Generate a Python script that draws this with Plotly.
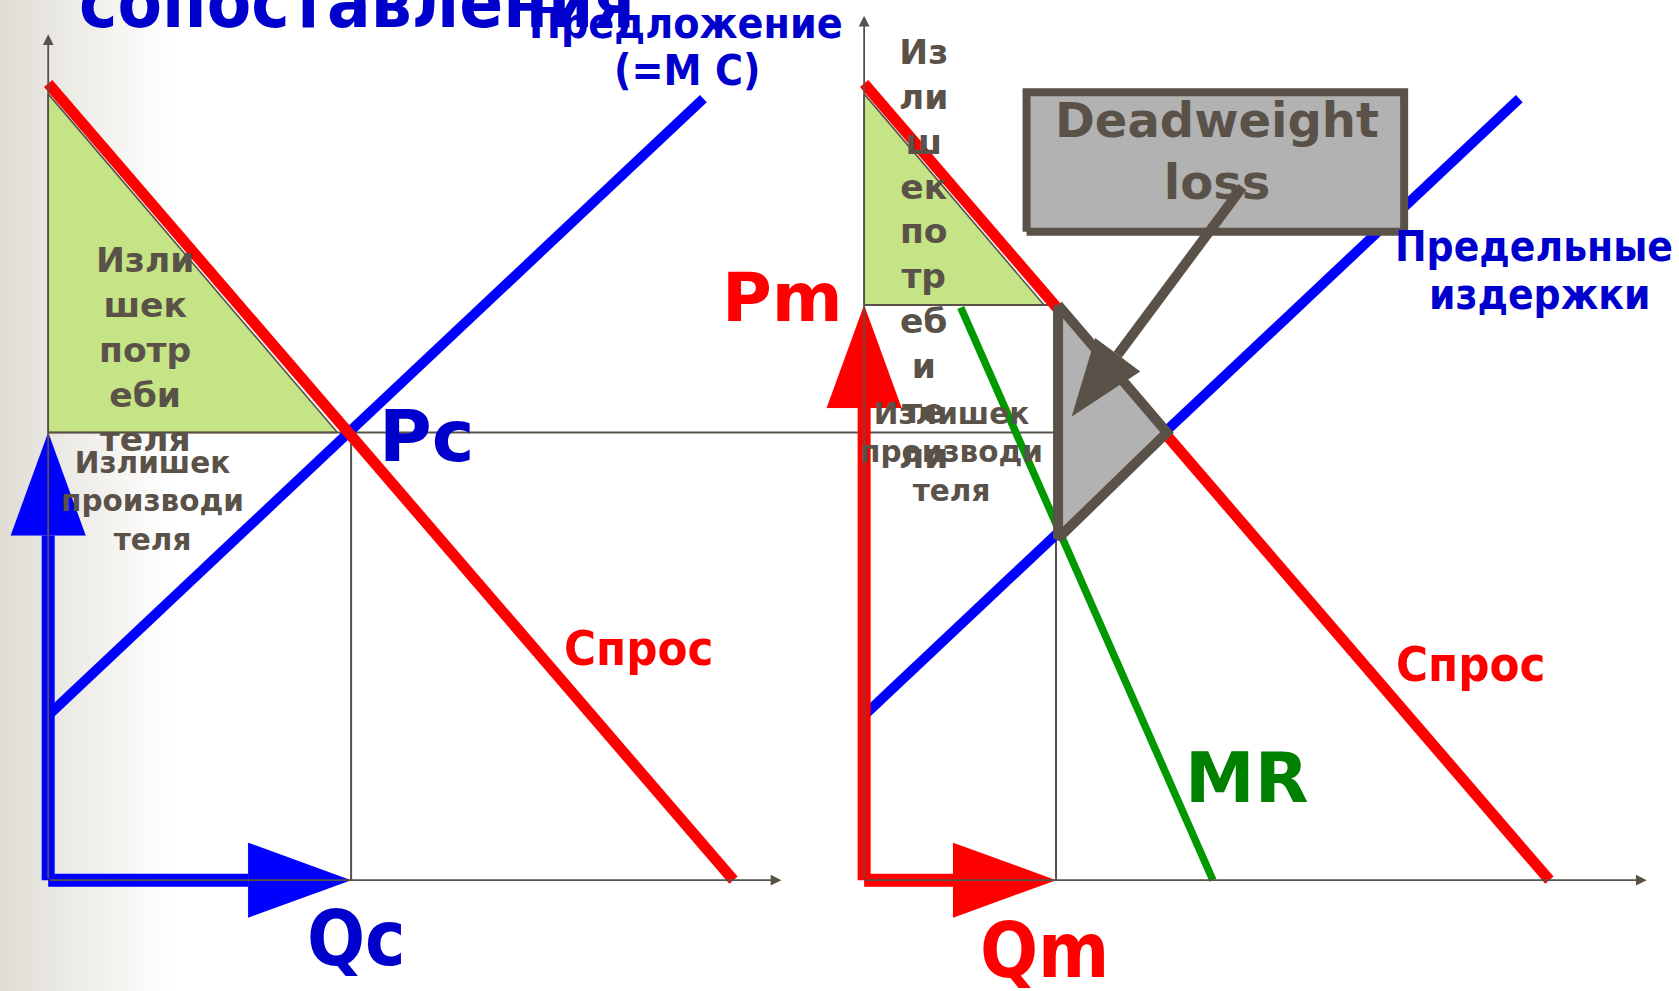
import plotly.graph_objects as go
import math

# ---------------- data (economic units) ----------------
demand_q = [0.0, 10.0]
demand_p = [10.0, 0.0]
supply_q = [0.0, 9.56]
supply_p = [2.07, 9.81]
mr_q = [1.41, 5.09]
mr_p = [7.19, 0.0]
Qc, Pc = 4.42, 5.62
Qm, Pm = 2.80, 7.22
cs_comp_q = [0.0, 0.0, 4.22]
cs_comp_p = [9.87, 5.62, 5.62]
cs_mono_q = [0.0, 0.0, 2.625]
cs_mono_p = [9.87, 7.22, 7.22]
dwl_q = [2.83, 4.42, 2.83]
dwl_p = [7.22, 5.62, 4.29]
axis_left_end = [10.7, 10.62]    # x end, y end
axis_right_end = [11.42, 10.85]

# ---------------- geometry / style ----------------
W, H = 1679, 991
K = 1679 / 1568
SX = 64 * K        # px per Q unit
SY = 74.4 * K      # px per P unit
OX1 = 45 * K       # left panel origin (px)
OX2 = 807 * K      # right panel origin (px)
OY = 822 * K

# both coordinate systems span the whole figure, each with its own origin
x1_range = [-OX1 / SX, (W - OX1) / SX]
x2_range = [-OX2 / SX, (W - OX2) / SX]
y_range = [-(H - OY) / SY, OY / SY]
right_origin_in_left = (OX2 - OX1) / SX

RED = "#FF0000"
BLUE = "#0000FF"
TBLUE = "#0000CC"
GREEN_LINE = "#009900"
GREEN_TXT = "#008000"
DARK = "#5A5249"
CSFILL = "#C4E485"
DWLFILL = "#B2B2B2"
FONT = "DejaVu Sans"
CFONT = "DejaVu Sans Condensed, Liberation Sans Narrow, DejaVu Sans"

fig = go.Figure()


def line(xs, ys, color, width, ax=1, **kw):
    fig.add_trace(go.Scatter(x=xs, y=ys, mode="lines",
                             line=dict(color=color, width=width),
                             xaxis="x" if ax == 1 else "x2",
                             yaxis="y" if ax == 1 else "y2",
                             hoverinfo="skip", showlegend=False, **kw))


def poly(xs, ys, fill, color, width, ax=1):
    line(list(xs) + [xs[0]], list(ys) + [ys[0]], color, width, ax,
         fill="toself", fillcolor=fill)


def arrowhead(tip, tail, length_px, half_px):
    dx = (tip[0] - tail[0]) * SX
    dy = (tip[1] - tail[1]) * SY
    n = math.hypot(dx, dy)
    ux, uy = dx / n, dy / n
    bx = tip[0] * SX - ux * length_px
    by = tip[1] * SY - uy * length_px
    px, py = -uy, ux
    pts = [(tip[0] * SX, tip[1] * SY),
           (bx + px * half_px, by + py * half_px),
           (bx - px * half_px, by - py * half_px)]
    base = (bx / SX, by / SY)
    return [p[0] / SX for p in pts], [p[1] / SY for p in pts], base


def big_arrow(tail, tip, color, width, length_px, half_px, ax):
    hx, hy, base = arrowhead(tip, tail, length_px, half_px)
    line([tail[0], base[0]], [tail[1], base[1]], color, width, ax)
    poly(hx, hy, color, color, 0.1, ax)


# consumer surplus triangles
poly(cs_comp_q, cs_comp_p, CSFILL, DARK, 1.6, 1)
poly(cs_mono_q, cs_mono_p, CSFILL, DARK, 1.6, 2)

# guide lines
line([0, right_origin_in_left], [Pc, Pc], DARK, 2, 1)
line([0, Qc], [Pc, Pc], DARK, 2, 2)
line([Qc, Qc], [0, Pc], DARK, 2, 1)
line([0, Qm], [Pm, Pm], DARK, 2, 2)
line([Qm, Qm], [0, Pm], DARK, 2, 2)

# supply / MC and demand
line(supply_q, supply_p, BLUE, 10, 1)
line(supply_q, supply_p, BLUE, 10, 2)
line(demand_q, demand_p, RED, 11, 1)
line(demand_q, demand_p, RED, 11, 2)
line(mr_q, mr_p, GREEN_LINE, 7.5, 2)

# deadweight loss triangle
poly(dwl_q, dwl_p, DWLFILL, DARK, 10, 2)

# deadweight box (label container)
bq = [2.37, 7.88]
bp = [8.14, 9.89]
poly([bq[0], bq[1], bq[1], bq[0]], [bp[0], bp[0], bp[1], bp[1]], DWLFILL, DARK, 8, 2)

# arrow from box to triangle
big_arrow((5.52, 8.70), (3.03, 5.82), DARK, 10, 77, 28, 2)

# big quantity/price arrows
big_arrow((0, 0), (0, Pc), BLUE, 13, 103, 37.5, 1)
big_arrow((0, 0), (Qc, 0), BLUE, 13, 103, 37.5, 1)
big_arrow((0, 0), (0, Pm), RED, 13, 103, 37.5, 2)
big_arrow((0, 0), (Qm, 0), RED, 13, 103, 37.5, 2)

# thin axes with small arrowheads
annotations = []
for (xr, yr, end) in [("x", "y", axis_left_end), ("x2", "y2", axis_right_end)]:
    for tip in [(end[0], 0), (0, end[1])]:
        annotations.append(dict(x=tip[0], y=tip[1], ax=0, ay=0, xref=xr, yref=yr,
                                axref=xr, ayref=yr, text="", showarrow=True,
                                arrowhead=2, arrowsize=1.2, arrowwidth=1.8,
                                arrowcolor=DARK, standoff=0, startstandoff=0))


def label(text, xs, ys, size, color, family=FONT, weight="bold"):
    annotations.append(dict(text=text, x=xs * K / W, y=1 - ys * K / H,
                            xref="paper", yref="paper", showarrow=False,
                            xanchor="center", yanchor="middle", align="center",
                            font=dict(family=family, size=size, color=color,
                                      weight=weight)))


label("сопоставления", 333, 2, 72, TBLUE, CFONT)
label("Предложение", 641, 22, 42.5, TBLUE, CFONT)
label("(=М С)", 642, 66, 42.5, TBLUE, CFONT)
label("Изли<br>шек<br>потр<br>еби<br>теля", 135, 326, 34.5, DARK)
label("Излишек<br>производи<br>теля", 142, 468, 29.5, DARK)
label("Pc", 398, 407, 72, TBLUE)
label("Qc", 333, 876, 76, TBLUE, CFONT)
label("Спрос", 596, 605, 48.5, RED, CFONT)
label("Спрос", 1373, 620, 48.5, RED, CFONT)
label("Pm", 731, 278, 68, RED)
label("Qm", 975, 888, 76, RED, CFONT)
label("MR", 1165, 727, 70, GREEN_TXT)
label("Предельные", 1433, 230, 42, TBLUE, CFONT)
label("издержки", 1438, 275, 42, TBLUE, CFONT)
label("Из<br>ли<br>ш<br>ек<br>по<br>тр<br>еб<br>и<br>те<br>ли", 862, 237, 34.5, DARK)
label("Излишек<br>производи<br>теля", 889, 423, 29.5, DARK)
label("Deadweight<br>loss", 1137, 141, 48, DARK)

# background gradient on the left edge
shapes = []
n = 40
gw = 175
c0 = (224, 221, 213)
for i in range(n):
    t = i / (n - 1)
    c = tuple(round(c0[j] + (255 - c0[j]) * t) for j in range(3))
    shapes.append(dict(type="rect", xref="paper", yref="paper",
                       x0=i * gw / n / W, x1=(i + 1) * gw / n / W + 0.0005,
                       y0=0, y1=1, line=dict(width=0),
                       fillcolor=f"rgb{c}", layer="below"))

ax_common = dict(visible=False, showgrid=False, zeroline=False, fixedrange=True)
fig.update_layout(
    width=W, height=H,
    margin=dict(l=0, r=0, t=0, b=0),
    paper_bgcolor="white", plot_bgcolor="rgba(0,0,0,0)",
    xaxis=dict(domain=[0, 1], range=x1_range, **ax_common),
    yaxis=dict(domain=[0, 1], range=y_range, **ax_common),
    xaxis2=dict(domain=[0, 1], range=x2_range, anchor="y2", **ax_common),
    yaxis2=dict(domain=[0, 1], range=y_range, anchor="x2", **ax_common),
    annotations=annotations, shapes=shapes, showlegend=False,
)

fig.write_html("out.html", config={"displayModeBar": False},
               post_script="document.body.style.margin='0px';document.body.style.overflow='hidden';")
